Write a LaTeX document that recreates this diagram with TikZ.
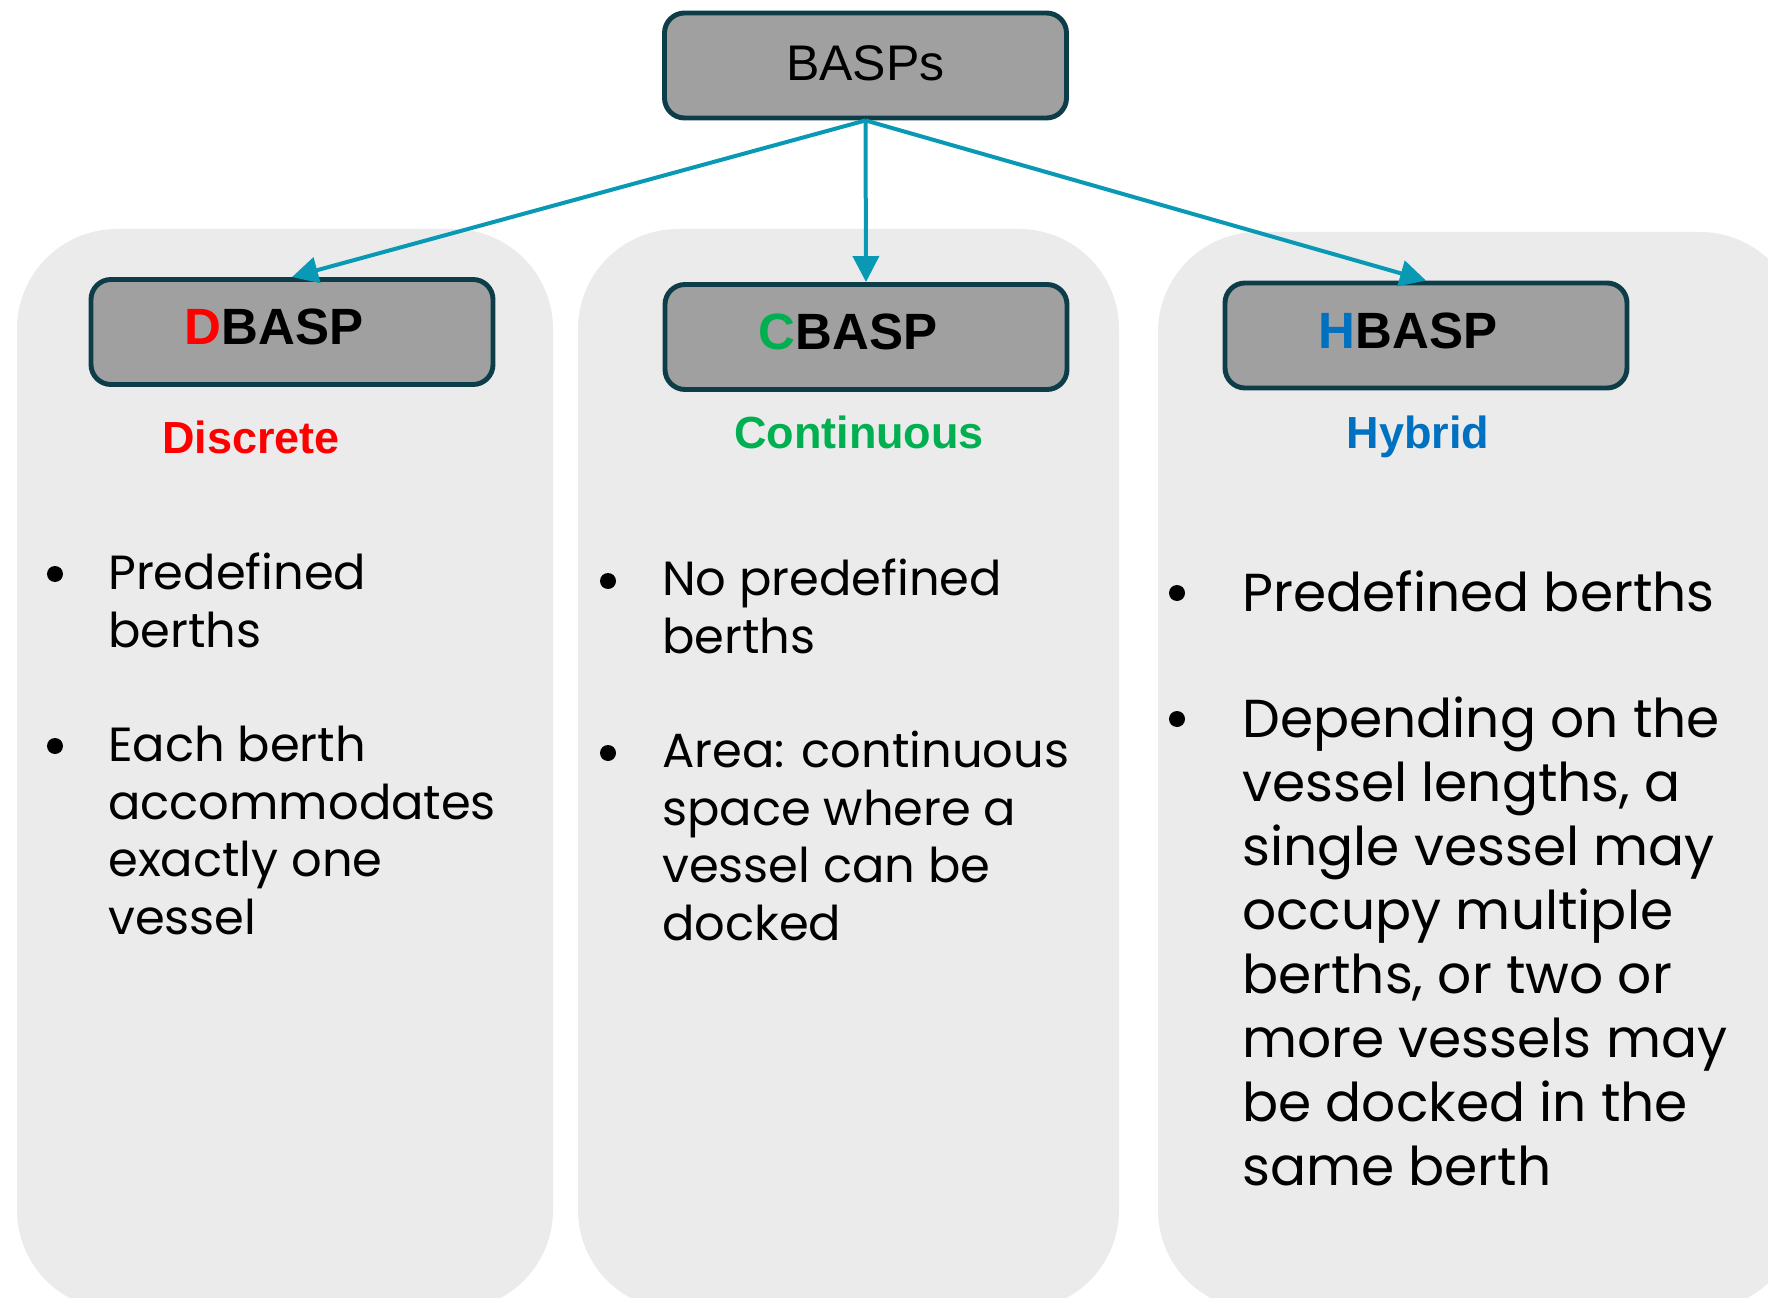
\documentclass[tikz,border=0pt]{standalone}
\usepackage{fontspec}
\setmainfont{Poppins}
\newfontfamily\hd{Liberation Sans}
\usetikzlibrary{arrows.meta}

\definecolor{panelgray}{HTML}{EBEBEB}
\definecolor{boxgray}{HTML}{A0A0A0}
\definecolor{boxline}{HTML}{0E3D4A}
\definecolor{teal}{HTML}{0A99B5}
\definecolor{dred}{HTML}{FF0000}
\definecolor{cgreen}{HTML}{00B050}
\definecolor{hblue}{HTML}{0070C0}

\def\bw{100.5mm}
\def\bh{26.25mm}
\tikzstyle{panel}=[fill=panelgray,rounded corners=25mm]
\tikzstyle{box}=[rectangle,rounded corners=5mm,draw=boxline,fill=boxgray,line width=3.5pt,minimum width=\bw,minimum height=\bh,inner sep=0pt]
\tikzstyle{root}=[box,font=\hd\fontsize{35.6}{40}\selectfont,text depth=1mm]
\tikzstyle{sub}=[box,font=\hd\bfseries\fontsize{36.3}{40}\selectfont,text depth=2.5mm,execute at end node=\hspace*{9mm}]
\tikzstyle{lbl}=[anchor=base,inner sep=0pt,font=\hd\bfseries\fontsize{32}{36}\selectfont]
\tikzstyle{bul}=[circle,fill=black,minimum size=4mm,inner sep=0pt]
% anchored at the baseline of the last line
\tikzstyle{item}=[anchor=base west,align=left,inner sep=0pt,font=\fontsize{34.1}{40.8}\selectfont]
\tikzstyle{bigitem}=[item,font=\fontsize{38}{45.5}\selectfont]
\tikzstyle{arr}=[-{Triangle[length=6.5mm,width=6.5mm]},draw=teal,line width=1mm]

\begin{document}
\begin{tikzpicture}[x=0.25mm,y=-0.25mm]
\useasboundingbox (0,0) rectangle (1768,1298);
\clip (0,0) rectangle (1768,1298);
% columns
\fill[panel] (17,229) rectangle (553,1310);
\fill[panel] (578,229) rectangle (1119,1310);
\fill[panel] (1158,232) rectangle (1800,1310);

\node[root] (basps) at (865.5,65.5) {BASPs};
\node[sub] (dbasp) at (292,332) {\textcolor{dred}{D}BASP};
\node[sub] (cbasp) at (866,337) {\textcolor{cgreen}{C}BASP};
\node[sub] (hbasp) at (1426,335.5) {\textcolor{hblue}{H}BASP};

\draw[arr] (basps.south) -- (dbasp.north);
\draw[arr] (basps.south) -- (cbasp.north);
\draw[arr] (basps.south) -- (hbasp.north);

\node[lbl,text=dred] (disc) at (251,453) {Discrete};
\node[lbl,text=cgreen] (cont) at (859,448) {Continuous};
\node[lbl,text=hblue] (hyb) at (1418,448) {Hybrid};

% discrete
\node[bul] (d1b) at (55,574) {};
\node[item] (d1) at (108,647) {Predefined\\berths};
\node[bul] (d2b) at (55,746) {};
\node[item] (d2) at (108,934) {Each berth\\accommodates\\exactly one\\vessel};
% continuous
\node[bul] (c1b) at (608,581) {};
\node[item] (c1) at (662,653) {No predefined\\berths};
\node[bul] (c2b) at (608,753) {};
\node[item] (c2) at (662,940) {Area: continuous\\space where a\\vessel can be\\docked};
% hybrid
\node[bul] (h1b) at (1177,593) {};
\node[bigitem] (h1) at (1242,611) {Predefined berths};
\node[bul] (h2b) at (1177,719) {};
\node[bigitem] (h2) at (1242,1185) {Depending on the\\vessel lengths, a\\single vessel may\\occupy multiple\\berths, or two or\\more vessels may\\be docked in the\\same berth};
\end{tikzpicture}
\end{document}
